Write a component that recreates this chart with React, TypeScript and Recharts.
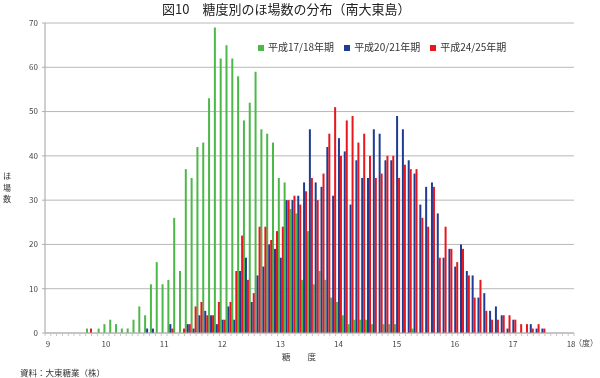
import { Bar, BarChart, CartesianGrid, Legend, XAxis, YAxis } from 'recharts'

const FONT = '"Noto Sans CJK JP", "Noto Sans", sans-serif'

// 糖度 classes, 0.1 steps from 9.0 to 18.0
const DEGREES = [
  '9.0', '9.1', '9.2', '9.3', '9.4', '9.5', '9.6', '9.7', '9.8', '9.9',
  '10.0', '10.1', '10.2', '10.3', '10.4', '10.5', '10.6', '10.7', '10.8', '10.9',
  '11.0', '11.1', '11.2', '11.3', '11.4', '11.5', '11.6', '11.7', '11.8', '11.9',
  '12.0', '12.1', '12.2', '12.3', '12.4', '12.5', '12.6', '12.7', '12.8', '12.9',
  '13.0', '13.1', '13.2', '13.3', '13.4', '13.5', '13.6', '13.7', '13.8', '13.9',
  '14.0', '14.1', '14.2', '14.3', '14.4', '14.5', '14.6', '14.7', '14.8', '14.9',
  '15.0', '15.1', '15.2', '15.3', '15.4', '15.5', '15.6', '15.7', '15.8', '15.9',
  '16.0', '16.1', '16.2', '16.3', '16.4', '16.5', '16.6', '16.7', '16.8', '16.9',
  '17.0', '17.1', '17.2', '17.3', '17.4', '17.5', '17.6', '17.7', '17.8', '17.9',
  '18.0',
]

// ほ場数 per class
const H17_18 = [
  0, 0, 0, 0, 0, 0, 0, 1, 0, 1,
  2, 3, 2, 1, 1, 3, 6, 4, 11, 16,
  11, 12, 26, 14, 37, 35, 42, 43, 53, 69,
  62, 65, 62, 58, 48, 52, 59, 46, 45, 43,
  35, 34, 28, 27, 12, 23, 11, 14, 12, 8,
  7, 4, 2, 3, 3, 3, 2, 0, 2, 2,
  2, 0, 0, 1, 0, 0, 0, 0, 0, 0,
  0, 0, 0, 0, 0, 0, 0, 0, 0, 0,
  0, 0, 0, 0, 0, 0, 0, 0, 0, 0,
  0,
]
const H20_21 = [
  0, 0, 0, 0, 0, 0, 0, 0, 0, 0,
  0, 0, 0, 0, 0, 0, 0, 1, 1, 0,
  0, 2, 0, 0, 2, 1, 4, 5, 4, 2,
  3, 6, 3, 14, 17, 7, 13, 15, 20, 19,
  17, 30, 30, 31, 34, 46, 34, 33, 42, 31,
  44, 41, 29, 39, 35, 35, 46, 45, 39, 39,
  49, 46, 39, 36, 29, 33, 34, 27, 17, 19,
  15, 20, 14, 13, 8, 9, 5, 6, 4, 1,
  3, 0, 0, 2, 1, 1, 0, 0, 0, 0,
  0,
]
const H24_25 = [
  0, 0, 0, 0, 0, 0, 0, 1, 0, 0,
  0, 0, 0, 0, 0, 0, 0, 0, 0, 0,
  0, 1, 0, 1, 2, 6, 7, 4, 4, 7,
  3, 7, 14, 22, 12, 9, 24, 24, 21, 23,
  24, 30, 31, 29, 32, 35, 30, 36, 45, 51,
  40, 48, 49, 43, 45, 40, 35, 36, 40, 40,
  35, 38, 37, 37, 26, 24, 33, 17, 24, 19,
  16, 19, 13, 8, 12, 5, 3, 3, 4, 4,
  3, 2, 2, 1, 2, 1, 0, 0, 0, 0,
  0,
]

const Y_TICKS = [0, 10, 20, 30, 40, 50, 60, 70]
const Y_LABEL = ['ほ', '場', '数']

const data = DEGREES.map((degree, i) => ({
  degree,
  h17: H17_18[i],
  h20: H20_21[i],
  h24: H24_25[i],
}))

const PLOT_WIDTH = 529
const BAND = PLOT_WIDTH / DEGREES.length

// Excel-style: tick marks between classes, labels only on whole degrees
function DegreeTick(props: any) {
  const { x, y, payload, index } = props
  const v: string = payload.value
  const left = x - BAND / 2
  const last = index === DEGREES.length - 1
  return (
    <g>
      <line x1={left} x2={left} y1={y - 8} y2={y - 5} stroke="#c4c4c4" />
      {last && <line x1={x + BAND / 2} x2={x + BAND / 2} y1={y - 8} y2={y - 5} stroke="#c4c4c4" />}
      {v.endsWith('.0') && (
        <text x={x} y={y} dy="0.71em" textAnchor="middle" fontSize={8} fill="#444" fontFamily={FONT}>
          {v.slice(0, -2)}
        </text>
      )}
    </g>
  )
}

const abs = (left: number, top: number, extra: object = {}) => ({
  position: 'absolute' as const,
  left,
  top,
  fontFamily: FONT,
  color: '#333',
  whiteSpace: 'nowrap' as const,
  lineHeight: 1.2,
  ...extra,
})

export default function App() {
  return (
    <div style={{ position: 'fixed', left: 0, top: 0, width: 600, height: 378, background: '#fff' }}>
      <div style={abs(162, 1, { fontSize: 13, color: '#222' })}>図10　糖度別のほ場数の分布（南大東島）</div>
      <BarChart
        width={600}
        height={378}
        data={data}
        margin={{ top: 23, right: 26, left: 0, bottom: 25 }}
        barCategoryGap="5%"
        barGap={0}
      >
        <CartesianGrid vertical={false} stroke="#b8b8b8" />
        <XAxis
          dataKey="degree"
          height={20}
          interval={0}
          tickSize={3}
          tickMargin={5}
          tickLine={false}
          axisLine={{ stroke: '#b0b0b0' }}
          tick={<DegreeTick />}
        />
        <YAxis
          width={45}
          domain={[0, 70]}
          ticks={Y_TICKS}
          tickSize={3}
          tickMargin={4}
          tickLine={{ stroke: '#b0b0b0' }}
          axisLine={{ stroke: '#a0a0a0' }}
          tick={{ fontSize: 8, fill: '#444', fontFamily: FONT }}
        />
        <YAxis
          yAxisId="frame"
          orientation="right"
          width={0}
          domain={[0, 70]}
          tick={false}
          tickLine={false}
          axisLine={{ stroke: '#c8c8c8', strokeWidth: 2 }}
        />
        <Legend
          layout="horizontal"
          verticalAlign="middle"
          align="center"
          iconType="square"
          iconSize={6}
          wrapperStyle={{ top: 39, left: 258, width: 'auto', fontFamily: FONT, fontSize: 10 }}
          formatter={(value: string) => <span style={{ color: '#333' }}>{value}</span>}
        />
        <Bar dataKey="h17" name="平成17/18年期" fill="#4cb848" isAnimationActive={false} />
        <Bar dataKey="h20" name="平成20/21年期" fill="#1f3c92" isAnimationActive={false} />
        <Bar dataKey="h24" name="平成24/25年期" fill="#e8161d" isAnimationActive={false} />
      </BarChart>
      {Y_LABEL.map((ch, i) => (
        <div key={ch} style={abs(2, 170 + i * 11.5, { fontSize: 8, lineHeight: '11px', width: 10, textAlign: 'center' })}>
          {ch}
        </div>
      ))}
      <div style={abs(282, 351, { fontSize: 8.5 })}>糖　　度</div>
      <div style={abs(574, 338, { fontSize: 8, color: '#444' })}>（度）</div>
      <div style={abs(20, 367, { fontSize: 8.5 })}>資料：大東糖業（株）</div>
    </div>
  )
}
